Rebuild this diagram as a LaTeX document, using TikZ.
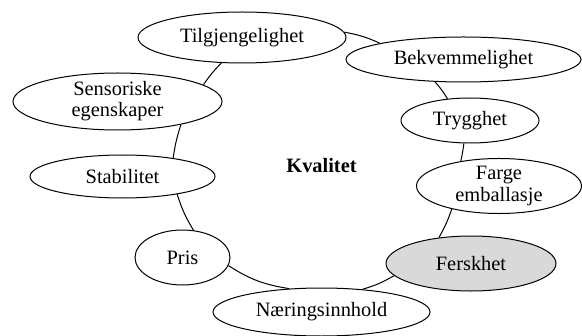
\documentclass[tikz,border=0pt]{standalone}
\usepackage{fontspec}
\setmainfont{Liberation Serif}
\usepackage{tikz}
\usetikzlibrary{shapes.geometric}

\tikzset{
  aspect/.style={ellipse, draw, line width=0.5pt, fill=white, inner sep=0pt, align=center,
    font=\fontsize{10.2}{10.6}\selectfont},
  link/.style={line width=0.5pt},
}

\begin{document}
\begin{tikzpicture}[x=0.5pt, y=-0.5pt]
  \useasboundingbox (0,0) rectangle (582,336);

  % centre
  \node[anchor=base, font=\fontsize{10.2}{12}\selectfont\bfseries] (kval) at (321.5,172) {Kvalitet};

  % the ring of aspects
  \node[aspect, minimum width=104pt, minimum height=25.5pt] (tilg) at (242,37.5) {Tilgjengelighet};
  \node[aspect, minimum width=117.5pt, minimum height=22.5pt] (bekv) at (463.5,59.5) {Bekvemmelighet};
  \node[aspect, minimum width=69pt, minimum height=22.5pt] (tryg) at (470,120.5) {Trygghet};
  \node[aspect, minimum width=82.5pt, minimum height=25pt] (farge) at (499,186) {Farge\\emballasje};
  \node[aspect, fill=gray!30, minimum width=85pt, minimum height=27.5pt] (fersk) at (471,263.5) {Ferskhet};
  \node[aspect, minimum width=108.5pt, minimum height=24pt] (naer) at (321.5,312) {Næringsinnhold};
  \node[aspect, minimum width=47.5pt, minimum height=27.5pt] (pris) at (182.5,257.5) {Pris};
  \node[aspect, minimum width=92.5pt, minimum height=21.5pt] (stab) at (122.5,176.5) {Stabilitet};
  \node[aspect, minimum width=104.5pt, minimum height=28.5pt] (sens) at (117.5,101.5) {Sensoriske\\egenskaper};

  % links round the ring
  \draw[link] (tilg.231) to[bend right=5] (sens.11);
  \draw[link] (sens.340) to[bend right=5] (stab.20);
  \draw[link] (stab.342) to[bend right=7] (pris.68);
  \draw[link] (pris.350) to[bend right=12] (naer.144);
  \draw[link] (naer.29) to[bend right=7] (fersk.189);
  \draw[link] (fersk.141) to[bend right=5] (farge.206);
  \draw[link] (farge.147) to[bend right=3] (tryg.255);
  \draw[link] (tryg.136) to[bend right=5] (bekv.218);
  \draw[link] (bekv.169) to[bend right=7] (tilg.3);
\end{tikzpicture}
\end{document}
